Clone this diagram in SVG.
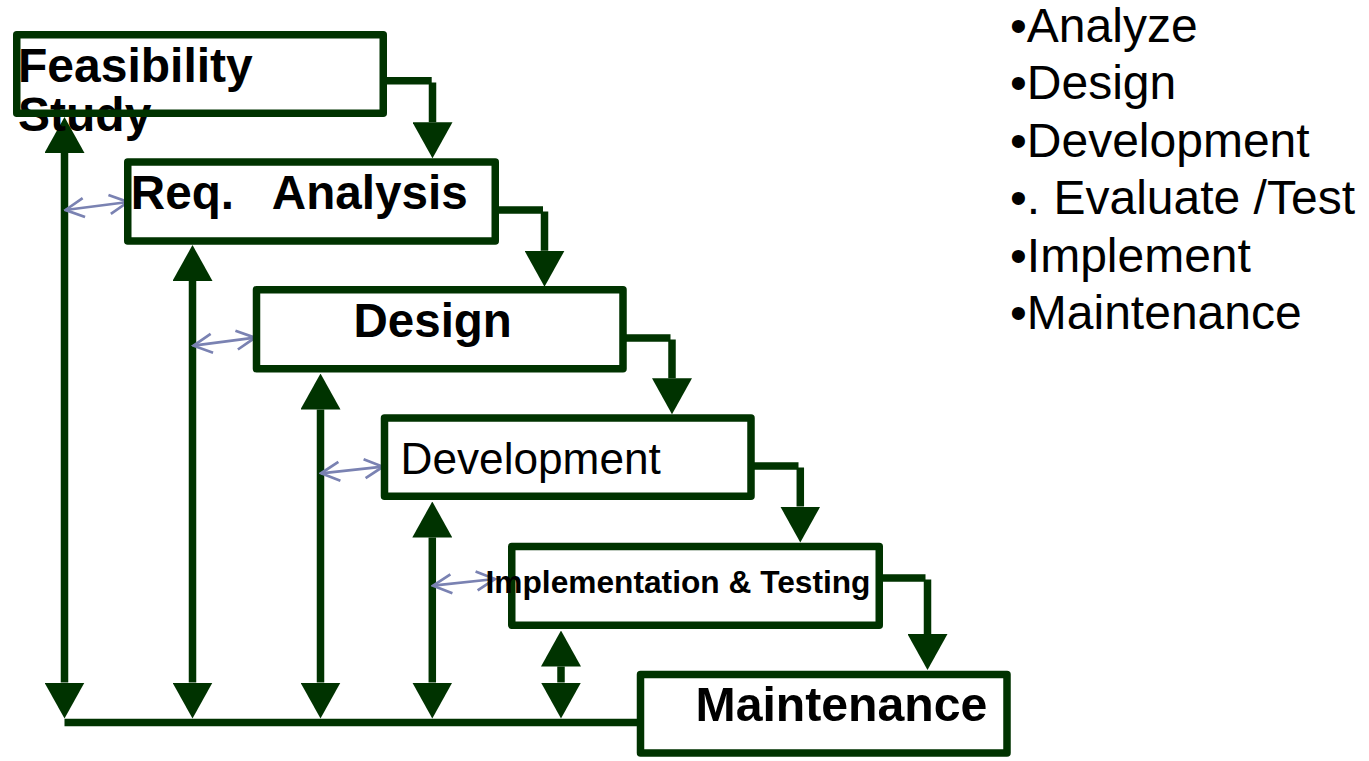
<svg xmlns="http://www.w3.org/2000/svg" width="1369" height="761" viewBox="0 0 1369 761">
<style>
.bg{fill:#ffffff;stroke:none}
.box{fill:none;stroke:#003300;stroke-width:7.5;stroke-linejoin:round}
.flow{fill:none;stroke:#003300;stroke-width:7.5;stroke-linecap:butt}
.fb{fill:none;stroke:#003300;stroke-width:7.5}
.thin{fill:none;stroke:#7a82b2;stroke-width:2.7}
.b{font-family:"Liberation Sans",Arial,sans-serif;font-weight:bold;fill:#000}
.r{font-family:"Liberation Sans",Arial,sans-serif;fill:#000}
</style>
<defs>
<marker id="ah" viewBox="0 0 36 40" refX="0" refY="20" markerWidth="36" markerHeight="40" markerUnits="userSpaceOnUse" orient="auto-start-reverse">
<path d="M0,0 L36,20 L0,40 z" fill="#003300"/>
</marker>
<marker id="ch" viewBox="-22 -12 24 24" refX="0" refY="0" markerWidth="24" markerHeight="24" markerUnits="userSpaceOnUse" orient="auto-start-reverse">
<path d="M-18.5,-9.5 L0,0 L-18.5,9.5" fill="none" stroke="#7a82b2" stroke-width="2.7"/>
</marker>
</defs>
<rect width="1369" height="761" fill="#ffffff"/>

<g id="connectors">
<!-- step flow -->
<path class="flow" d="M383,80.7 H431.7 M432.5,82.5 V122.3" marker-end="url(#ah)"/>
<path class="flow" d="M495,210 H543 M544.5,211.5 V250.7" marker-end="url(#ah)"/>
<path class="flow" d="M623,338 H670.5 M672,339.5 V378.3" marker-end="url(#ah)"/>
<path class="flow" d="M751,466 H798.5 M800.3,467.5 V506.5" marker-end="url(#ah)"/>
<path class="flow" d="M879,578 H925.5 M927.5,579.5 V634" marker-end="url(#ah)"/>
<!-- feedback verticals -->
<path class="fb" d="M64.5,153 V682.5" marker-start="url(#ah)" marker-end="url(#ah)"/>
<path class="fb" d="M192.5,281 V682.5" marker-start="url(#ah)" marker-end="url(#ah)"/>
<path class="fb" d="M320.5,409.5 V682.5" marker-start="url(#ah)" marker-end="url(#ah)"/>
<path class="fb" d="M432.3,537.5 V682.5" marker-start="url(#ah)" marker-end="url(#ah)"/>
<path class="fb" d="M561,666.5 V682.5" marker-start="url(#ah)" marker-end="url(#ah)"/>
<path class="fb" d="M64.5,722.5 H641"/>
<!-- thin double arrows -->
<line class="thin" x1="65.5" y1="210" x2="128" y2="202" marker-start="url(#ch)" marker-end="url(#ch)"/>
<line class="thin" x1="193.5" y1="345.7" x2="255" y2="337.7" marker-start="url(#ch)" marker-end="url(#ch)"/>
<line class="thin" x1="321" y1="473.3" x2="383" y2="466.7" marker-start="url(#ch)" marker-end="url(#ch)"/>
<line class="thin" x1="433" y1="585.7" x2="495" y2="579" marker-start="url(#ch)" marker-end="url(#ch)"/>
</g>

<g id="feasibility">
<rect class="bg" x="16.75" y="34.75" width="366.5" height="78.5"/>
<text class="b" x="18" y="81.7" font-size="48">Feasibility</text>
<text class="b" x="18" y="130.5" font-size="48">Study</text>
<rect class="box" x="16.75" y="34.75" width="366.5" height="78.5"/>
</g>

<g id="req-analysis">
<rect class="bg" x="127.75" y="162" width="367.5" height="79"/>
<text class="b" x="130.8" y="209.3" font-size="47.6" xml:space="preserve" style="white-space:pre">Req.   Analysis</text>
<rect class="box" x="127.75" y="162" width="367.5" height="79"/>
</g>

<g id="design">
<rect class="bg" x="256.5" y="289.75" width="366.5" height="79"/>
<text class="b" x="353.5" y="337.3" font-size="47.5">Design</text>
<rect class="box" x="256.5" y="289.75" width="366.5" height="79"/>
</g>

<g id="development">
<rect class="bg" x="384.5" y="418" width="366.5" height="78.3"/>
<text class="r" x="400.5" y="474" font-size="44.2">Development</text>
<rect class="box" x="384.5" y="418" width="366.5" height="78.3"/>
</g>

<g id="implementation">
<rect class="bg" x="511.75" y="546.5" width="367.5" height="78.7"/>
<rect class="box" x="511.75" y="546.5" width="367.5" height="78.7"/>
<text class="b" x="485.5" y="593" font-size="31.7">Implementation &amp; Testing</text>
</g>

<g id="maintenance">
<rect class="bg" x="640.5" y="674.5" width="366.5" height="78.5"/>
<text class="b" x="695.5" y="720.7" font-size="48.2">Maintenance</text>
<rect class="box" x="640.5" y="674.5" width="366.5" height="78.5"/>
</g>

<g id="list">
<text class="r" x="1010" y="42" font-size="48">•Analyze</text>
<text class="r" x="1010" y="99.3" font-size="48">•Design</text>
<text class="r" x="1010" y="156.8" font-size="48">•Development</text>
<text class="r" x="1010" y="214.3" font-size="48" xml:space="preserve" style="white-space:pre">•. Evaluate /Test</text>
<text class="r" x="1010" y="271.7" font-size="48">•Implement</text>
<text class="r" x="1010" y="329" font-size="48">•Maintenance</text>
</g>
</svg>
